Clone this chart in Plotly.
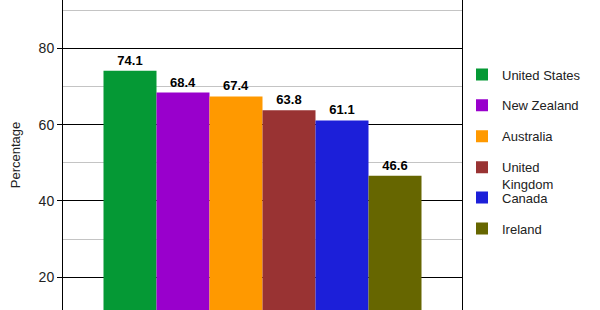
import plotly.graph_objects as go

countries = ["United States", "New Zealand", "Australia", "United<br>Kingdom", "Canada", "Ireland"]
values = [74.1, 68.4, 67.4, 63.8, 61.1, 46.6]
colors = ["#059935", "#9900cc", "#ff9900", "#993333", "#1c1fd9", "#666600"]
legend_ids = ["legend", "legend", "legend", "legend", "legend2", "legend2"]

FONT = "Liberation Sans, Arial, sans-serif"

fig = go.Figure()
for i, (name, v, c, lg) in enumerate(zip(countries, values, colors, legend_ids)):
    fig.add_trace(go.Bar(
        x=[""], y=[v], name=name, marker_color=c,
        marker_line_width=0,
        text=[f"{v:.1f}"], textposition="outside",
        textfont=dict(family=FONT, size=13, color="black", weight="bold"),
        cliponaxis=False, legendgroup=f"g{i}", legend=lg,
        hoverinfo="skip",
    ))

fig.update_layout(
    width=600, height=310,
    margin=dict(l=63, r=138, t=0, b=0),
    paper_bgcolor="white", plot_bgcolor="white",
    barmode="group", bargap=0.203, bargroupgap=0,
    font=dict(family=FONT, size=13, color="#222"),
    legend=dict(x=1.0, xanchor="left", y=0.808, yanchor="top",
                xref="paper", yref="paper",
                tracegroupgap=11, valign="top",
                font=dict(family=FONT, size=13, color="#222"),
                bgcolor="rgba(0,0,0,0)", itemclick=False),
    legend2=dict(x=1.0, xanchor="left", y=0.411, yanchor="top",
                 xref="paper", yref="paper",
                 tracegroupgap=11, valign="top",
                 font=dict(family=FONT, size=13, color="#222"),
                 bgcolor="rgba(0,0,0,0)", itemclick=False),
    xaxis=dict(showticklabels=False, showgrid=False, zeroline=False, showline=False, fixedrange=True),
    yaxis=dict(range=[11.43, 92.67], dtick=20, tick0=0,
               ticks="outside", ticklen=5, tickcolor="black",
               showgrid=True, gridcolor="black", gridwidth=1,
               showline=True, linecolor="black", linewidth=1, mirror=True,
               zeroline=False,
               tickfont=dict(family=FONT, size=14, color="#222"),
               title=dict(text="Percentage", standoff=15,
                          font=dict(family=FONT, size=13, color="#222")),
               minor=dict(dtick=10, tick0=0, showgrid=True, gridcolor="#c4c4c4", ticks=""),
               fixedrange=True),
)

fig.write_html("out.html")
